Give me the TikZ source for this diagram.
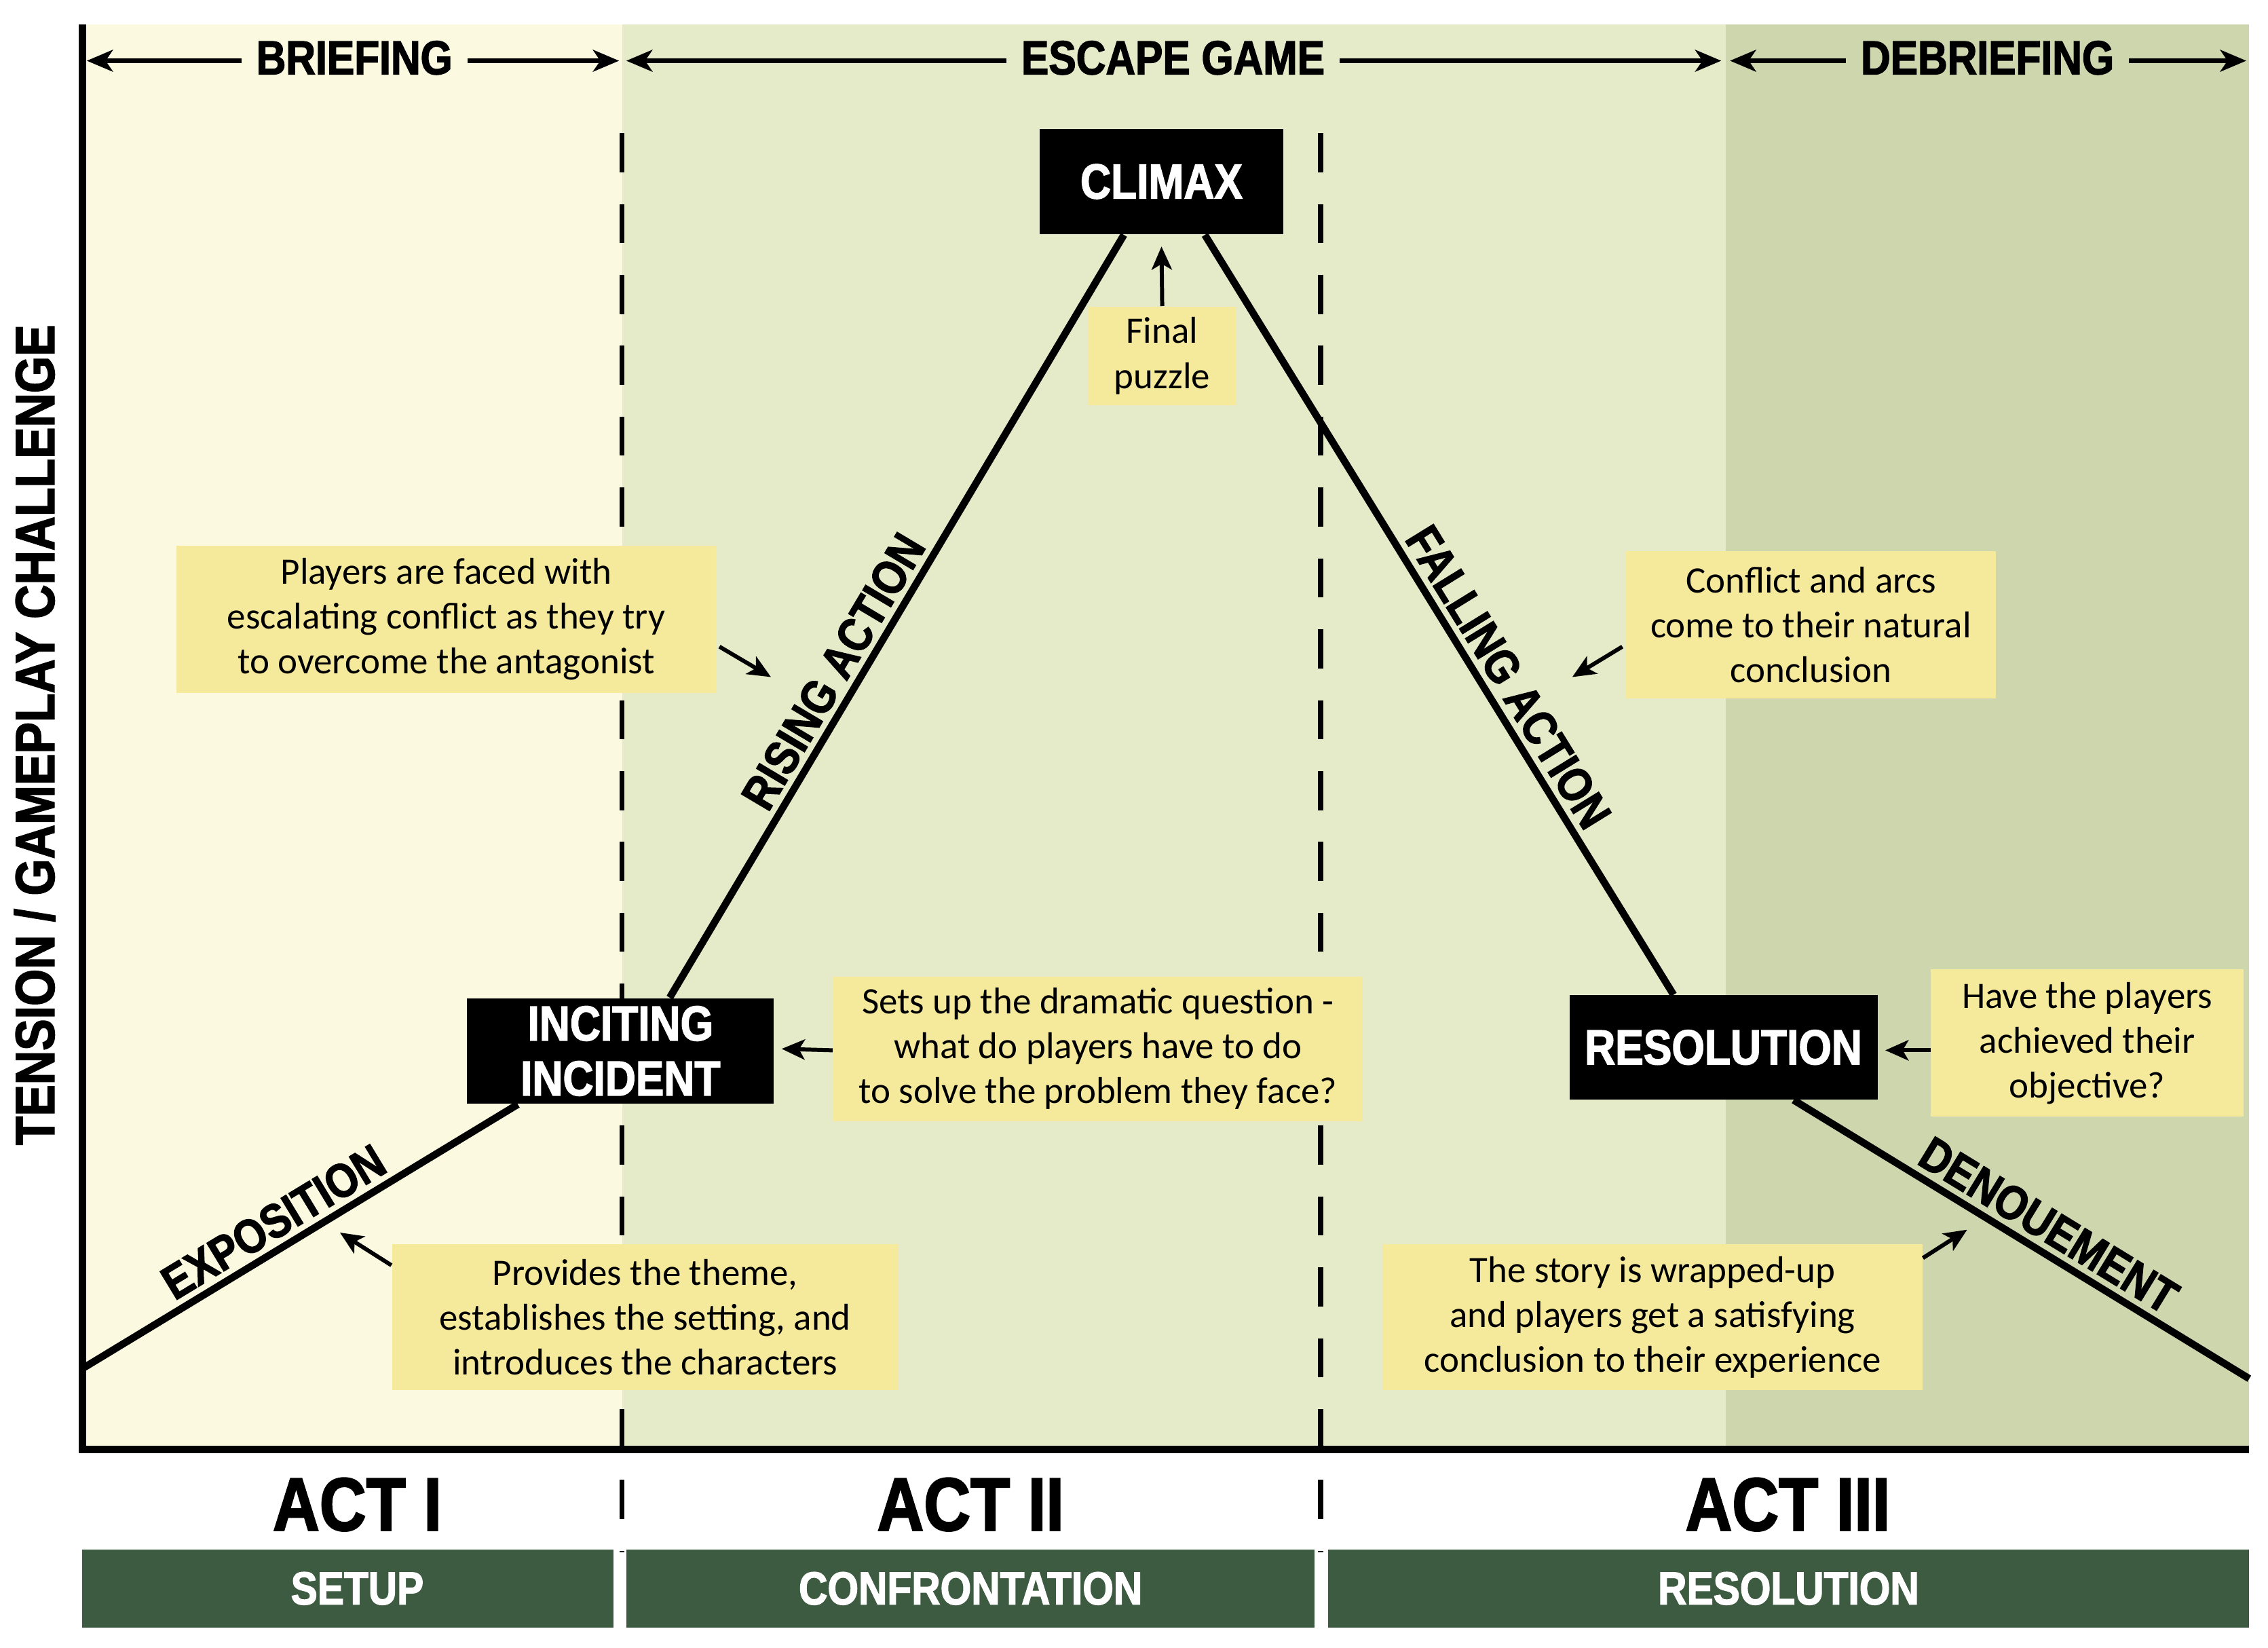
\documentclass[tikz,border=0pt]{standalone}
\usepackage{fontspec}
\setmainfont{Carlito}
\newfontfamily\heavy[FakeStretch=0.86,FakeBold=2]{Liberation Sans Bold}
\usetikzlibrary{arrows.meta,calc}
\definecolor{bgA}{HTML}{FCF9E1}
\definecolor{bgB}{HTML}{E5EBC8}
\definecolor{bgC}{HTML}{CED6AE}
\definecolor{notey}{HTML}{F5EA9C}
\definecolor{bargreen}{HTML}{3D5B41}
\begin{document}
\begin{tikzpicture}[x=0.5pt,y=-0.5pt,
  notebox/.style={fill=notey, inner sep=0pt, align=center, font=\fontsize{12.9}{15.5}\selectfont},
  blackbox/.style={fill=black, text=white, inner sep=0pt, align=center, font=\heavy\fontsize{17}{19}\selectfont},
  plotline/.style={line width=2.5pt},
  ann/.style={-{Stealth[length=8pt,width=7pt,inset=2pt]}, line width=1.4pt},
  phase/.style={inner sep=5pt, font=\heavy\fontsize{16.5}{18}\selectfont},
  hdrarrow/.style={-{Stealth[length=9pt,width=7.5pt,inset=2.5pt]}, line width=1.6pt},
  seglabel/.style={sloped, above=1pt, inner sep=1pt, font=\heavy\fontsize{16.5}{19}\selectfont},
  actlabel/.style={font=\heavy\fontsize{26}{28}\selectfont},
  actbar/.style={fill=bargreen, text=white, inner sep=0pt, minimum height=27pt, font=\heavy\fontsize{16}{18}\selectfont},
  divider/.style={line width=1.8pt, dash pattern=on 13.5pt off 11pt},
  axis/.style={line width=2.6pt}
]
\useasboundingbox (0,0) rectangle (1568,1139);
\fill[white] (0,0) rectangle (1568,1139);
% backgrounds
\fill[bgA] (57,17) rectangle (430,1002);
\fill[bgB] (430,17) rectangle (1193,1002);
\fill[bgC] (1193,17) rectangle (1555,1002);
% dividers
\draw[divider] (430,92) -- (430,1073);
\draw[divider] (913,92) -- (913,1073);
% axes
\coordinate (ax0) at (57,1002);
\draw[axis] (57,17) -- (ax0) -- (1555,1002);
% header
\node[phase] (brief) at (245,40) {BRIEFING};
\node[phase] (escape) at (811,40) {ESCAPE GAME};
\node[phase] (debrief) at (1374,40) {DEBRIEFING};
\coordinate (b1) at (60,42);
\coordinate (b2) at (428,42);
\coordinate (e1) at (433,42);
\coordinate (e2) at (1190,42);
\coordinate (d1) at (1196,42);
\coordinate (d2) at (1553,42);
\draw[hdrarrow] (brief.west |- b1) -- (b1);
\draw[hdrarrow] (brief.east |- b2) -- (b2);
\draw[hdrarrow] (escape.west |- e1) -- (e1);
\draw[hdrarrow] (escape.east |- e2) -- (e2);
\draw[hdrarrow] (debrief.west |- d1) -- (d1);
\draw[hdrarrow] (debrief.east |- d2) -- (d2);
% y label
\node[rotate=90, font=\heavy\fontsize{19}{21}\selectfont] (ylab) at (24,508) {TENSION / GAMEPLAY CHALLENGE};
% black boxes
\node[blackbox, minimum width=84pt, minimum height=36.5pt] (climax) at (803,125.5) {CLIMAX};
\node[blackbox, minimum width=106pt, minimum height=36.5pt] (inc) at (429,726.5) {INCITING\\INCIDENT};
\node[blackbox, minimum width=106.5pt, minimum height=36pt] (res) at (1191.5,724) {RESOLUTION};
% plot lines
\coordinate (start) at (57,946);
\coordinate (finish) at (1555,953);
\draw[plotline] (start) -- ([xshift=-35.5pt]inc.south) node[seglabel, pos=0.47] (lexpo) {EXPOSITION};
\draw[plotline] ([xshift=17pt]inc.north) -- ([xshift=-13pt]climax.south) node[seglabel, pos=0.41] (lrise) {RISING ACTION};
\draw[plotline] ([xshift=15pt]climax.south) -- ([xshift=-17.25pt]res.north) node[seglabel, pos=0.60] (lfall) {FALLING ACTION};
\draw[plotline] ([xshift=24.25pt]res.south) -- (finish) node[seglabel, pos=0.53] (ldenou) {DENOUEMENT};
% note boxes
\node[notebox, minimum width=51.5pt, minimum height=34pt] (final) at (803.5,246) {Final\\puzzle};
\node[notebox, minimum width=186.5pt, minimum height=51pt] (players) at (308.5,428) {Players are faced with\\escalating conflict as they try\\to overcome the antagonist};
\node[notebox, minimum width=128pt, minimum height=51pt] (conflict) at (1252,432) {Conflict and arcs\\come to their natural\\conclusion};
\node[notebox, minimum width=183pt, minimum height=50pt] (setsup) at (759,725) {Sets up the dramatic question -\\what do players have to do\\to solve the problem they face?};
\node[notebox, minimum width=108pt, minimum height=51pt] (have) at (1443,721) {Have the players\\achieved their\\objective?};
\node[notebox, minimum width=175pt, minimum height=50.5pt] (provides) at (446,910.5) {Provides the theme,\\establishes the setting, and\\introduces the characters};
\node[notebox, minimum width=186.5pt, minimum height=50.5pt] (story) at (1142.5,910.5) {The story is wrapped-up\\and players get a satisfying\\conclusion to their experience};
% annotation arrows
\coordinate (pa) at (533,468);
\coordinate (ca) at (1087,468);
\coordinate (pra) at (235,852);
\coordinate (sta) at (1360,850);
\draw[ann] (final.north) -- ([yshift=-4pt]climax.south);
\draw[ann] ([xshift=1pt,yshift=-9.5pt]players.east) -- (pa);
\draw[ann] ([xshift=-1pt,yshift=-7.5pt]conflict.west) -- (ca);
\draw[ann] ([yshift=-0.5pt]setsup.west) -- ([xshift=2.5pt]inc.east |- setsup.west);
\draw[ann] ([yshift=-2.5pt]have.west) -- ([xshift=2.5pt,yshift=-2.5pt]res.east |- have.west);
\draw[ann] ([yshift=-7.5pt]provides.north west) -- (pra);
\draw[ann] ([yshift=-5pt]story.north east) -- (sta);
% acts
\node[actlabel] (act1) at (247,1040) {ACT I};
\node[actlabel] (act2) at (671,1040) {ACT II};
\node[actlabel] (act3) at (1236,1040) {ACT III};
\node[actbar, minimum width=183.5pt] (setup) at (240.5,1098) {};
\node[actbar, minimum width=238pt] (confront) at (671,1098) {CONFRONTATION};
\node[actbar, minimum width=318.5pt] (resbar) at (1236.5,1098) {RESOLUTION};
\node[text=white, inner sep=0pt, font=\heavy\fontsize{16}{18}\selectfont] (setuptext) at (247,1098) {SETUP};
\end{tikzpicture}
\end{document}
